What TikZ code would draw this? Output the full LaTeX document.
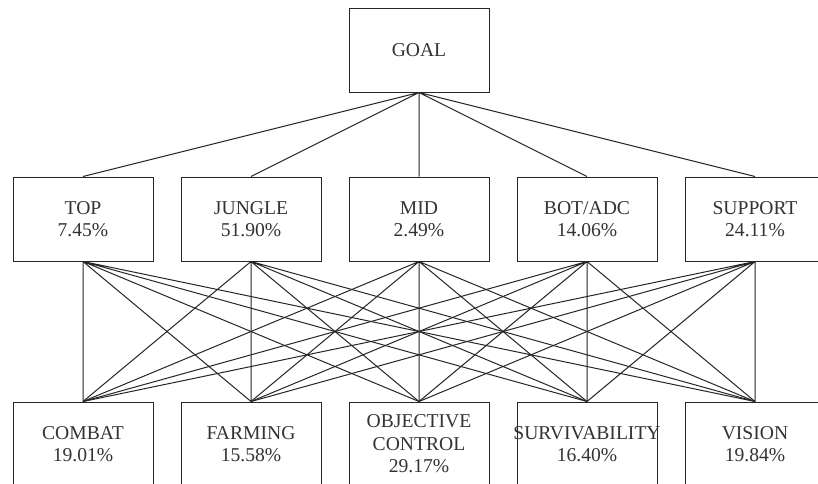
\documentclass[tikz,border=0pt]{standalone}
\usepackage{fontspec}
\setmainfont{Liberation Serif}
\usepackage{tikz}
\usetikzlibrary{positioning}

\begin{document}
\begin{tikzpicture}[x=1pt, y=1pt]

\tikzset{
  box/.style  = {rectangle, minimum width=140pt, minimum height=84pt,
                 inner sep=0pt, align=center, draw=black!85, line width=1pt,
                 fill=white, text=black!80,
                 font=\fontsize{19.6}{22.5}\selectfont},
  link/.style = {draw=black!85, line width=1pt}
}

%% ── Frame ───────────────────────────────────────────────────────
\clip (0, 0) rectangle (818, -483);
\fill[white] (0, 0) rectangle (818, -483);

%% ── Goal ────────────────────────────────────────────────────────
\node[box] (goal) at (419, -50) {GOAL};

%% ── Roles ───────────────────────────────────────────────────────
\node[box] (top)     at (83,  -219) {TOP\\7.45\%};
\node[box] (jungle)  at (251, -219) {JUNGLE\\51.90\%};
\node[box] (mid)     at (419, -219) {MID\\2.49\%};
\node[box] (bot)     at (587, -219) {BOT/ADC\\14.06\%};
\node[box] (support) at (755, -219) {SUPPORT\\24.11\%};

%% ── Criteria ────────────────────────────────────────────────────
\node[box] (combat)    at (83,  -444) {COMBAT\\19.01\%};
\node[box] (farming)   at (251, -444) {FARMING\\15.58\%};
\node[box] (objective) at (419, -444) {OBJECTIVE\\CONTROL\\29.17\%};
\node[box] (surviv)    at (587, -444) {\makebox[140pt]{SURVIVABILITY}\\16.40\%};
\node[box] (vision)    at (755, -444) {VISION\\19.84\%};

%% ── Links: goal to roles ────────────────────────────────────────
\draw[link] (goal.south) -- (top.north)
            (goal.south) -- (jungle.north)
            (goal.south) -- (mid.north)
            (goal.south) -- (bot.north)
            (goal.south) -- (support.north);

%% ── Links: roles to criteria ────────────────────────────────────
\draw[link] (top.south) -- (combat.north)    (top.south) -- (farming.north)
            (top.south) -- (objective.north) (top.south) -- (surviv.north)
            (top.south) -- (vision.north);
\draw[link] (jungle.south) -- (combat.north)    (jungle.south) -- (farming.north)
            (jungle.south) -- (objective.north) (jungle.south) -- (surviv.north)
            (jungle.south) -- (vision.north);
\draw[link] (mid.south) -- (combat.north)    (mid.south) -- (farming.north)
            (mid.south) -- (objective.north) (mid.south) -- (surviv.north)
            (mid.south) -- (vision.north);
\draw[link] (bot.south) -- (combat.north)    (bot.south) -- (farming.north)
            (bot.south) -- (objective.north) (bot.south) -- (surviv.north)
            (bot.south) -- (vision.north);
\draw[link] (support.south) -- (combat.north)    (support.south) -- (farming.north)
            (support.south) -- (objective.north) (support.south) -- (surviv.north)
            (support.south) -- (vision.north);

\end{tikzpicture}
\end{document}
